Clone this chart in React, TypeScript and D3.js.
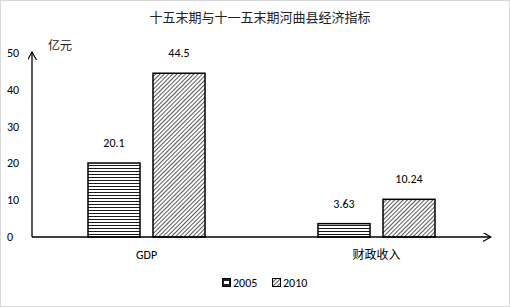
import React from 'react';
import * as d3 from 'd3';

const categories = ['GDP', '财政收入'];
const years = ['2005', '2010'];
const values2005 = [20.1, 3.63];
const values2010 = [44.5, 10.24];
const labels2005 = ['20.1', '3.63'];
const labels2010 = ['44.5', '10.24'];
const yTicks = [0, 10, 20, 30, 40, 50];

const W = 510;
const H = 307;
const numFont = "Carlito, 'Open Sans', 'Liberation Sans', Arial, sans-serif";
const cjkFont = "'Noto Sans CJK SC', sans-serif";

const App: React.FC = () => {
  const x0 = 32;
  const xEnd = 491;
  const y = d3.scaleLinear().domain([0, 50]).range([237, 53]);
  const x = d3.scaleBand<string>().domain(categories).range([31.5, 491.5]).paddingInner(0).paddingOuter(0);
  const sub = d3.scaleBand<string>().domain(years).range([0, 117]).paddingInner(0.2);
  const groupOffset = (x.bandwidth() - 117) / 2;
  const series = [
    { key: '2005', vals: values2005, labs: labels2005, fill: 'url(#hstripe)' },
    { key: '2010', vals: values2010, labs: labels2010, fill: 'url(#diag)' },
  ];

  return (
    <svg width={W} height={H} style={{ position: 'absolute', left: 0, top: 0, background: '#fff' }}>
      <defs>
        <pattern id="hstripe" width="6" height="3" patternUnits="userSpaceOnUse">
          <rect width="6" height="3" fill="#fff" />
          <line x1="0" y1="0.5" x2="6" y2="0.5" stroke="#1a1a1a" strokeWidth="1" />
        </pattern>
        <pattern id="diag" width="3" height="3" patternUnits="userSpaceOnUse" patternTransform="rotate(45)">
          <rect width="3" height="3" fill="#fff" />
          <line x1="0" y1="0" x2="0" y2="3" stroke="#111" strokeWidth="1.4" />
        </pattern>
        <marker id="arrow" viewBox="0 0 10 10" refX="9" refY="5" markerWidth="9" markerHeight="9" orient="auto" markerUnits="userSpaceOnUse">
          <path d="M0,0 L9,5 L0,10" fill="none" stroke="#000" strokeWidth="1.3" />
        </marker>
      </defs>
      <rect x={0.5} y={0.5} width={W - 1} height={H - 1} fill="#fff" stroke="#d9d9d9" />
      <text x={260} y={22} textAnchor="middle" fontFamily={cjkFont} fontSize={13} fill="#222">
        十五末期与十一五末期河曲县经济指标
      </text>
      <text x={48} y={50} fontFamily={cjkFont} fontSize={12} fill="#222">亿元</text>
      {yTicks.map(t => (
        <text key={t} x={7} y={y(t) + 4} fontFamily={numFont} fontSize={12} fill="#000">{t}</text>
      ))}
      {series.map((s, si) =>
        categories.map((c, ci) => {
          const bx = (x(c) as number) + groupOffset + (sub(s.key) as number);
          const by = y(s.vals[ci]);
          return (
            <g key={s.key + c}>
              <rect x={bx} y={by} width={sub.bandwidth()} height={y(0) - by} fill={s.fill} stroke="#000" strokeWidth={1.5} />
              <text x={bx + sub.bandwidth() / 2} y={by - 16} textAnchor="middle" fontFamily={numFont} fontSize={12} fill="#000">
                {s.labs[ci]}
              </text>
            </g>
          );
        })
      )}
      <line x1={x0} y1={y(0)} x2={xEnd} y2={y(0)} stroke="#000" strokeWidth={1.3} markerEnd="url(#arrow)" />
      <line x1={x0} y1={y(0)} x2={x0} y2={52} stroke="#000" strokeWidth={1.3} markerEnd="url(#arrow)" />
      {categories.map(c => (
        <text key={c} x={(x(c) as number) + x.bandwidth() / 2} y={259} textAnchor="middle" fontFamily={c === 'GDP' ? numFont : cjkFont} fontSize={12} fill="#000">
          {c}
        </text>
      ))}
      {series.map((s, i) => (
        <g key={s.key} transform={`translate(${222 + i * 50},${278})`}>
          <rect x={0.5} y={0.5} width={8} height={8} fill={i === 0 ? '#222' : s.fill} stroke="#000" strokeWidth={1} />
          {i === 0 && <rect x={2} y={3} width={5} height={3} fill="#fff" />}
          <text x={11} y={9} fontFamily={numFont} fontSize={12} fill="#000">{s.key}</text>
        </g>
      ))}
    </svg>
  );
};

export default App;
